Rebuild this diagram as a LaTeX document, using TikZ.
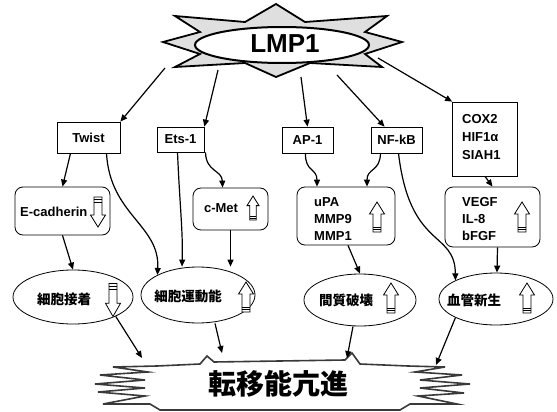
\documentclass[tikz,border=0pt]{standalone}
\usepackage{fontspec}
\setmainfont{Liberation Sans}
\newfontfamily\jpfont{Noto Sans CJK JP}
\usetikzlibrary{arrows.meta,shapes.geometric}
\tikzset{
  boxs/.style={draw, line width=0.7pt, inner sep=0pt},
  rboxs/.style={draw, line width=0.8pt, rounded corners=8pt, inner sep=0pt},
  lbl/.style={font=\bfseries\fontsize{13}{15}\selectfont, inner sep=0pt},
  jlbl/.style={font=\jpfont\bfseries\fontsize{13.5}{15}\selectfont, inner sep=0pt},
  ells/.style={draw, ellipse, line width=0.8pt, inner sep=0pt},
  arr/.style={-{Triangle[length=7pt,width=6pt]}, line width=1.2pt},
  uparr/.pic={
    \draw[line width=0.8pt, fill=white] (-4,15) -- (4,15) -- (4,-3) -- (7.5,-3) -- (0,-15) -- (-7.5,-3) -- (-4,-3) -- cycle;
    \draw[line width=0.7pt] (-4,10) -- (4,10) (-4,12.5) -- (4,12.5);
  },
  downarr/.pic={
    \draw[line width=0.8pt, fill=white] (-4,-15) -- (4,-15) -- (4,3) -- (7.5,3) -- (0,15) -- (-7.5,3) -- (-4,3) -- cycle;
    \draw[line width=0.7pt] (-4,-10) -- (4,-10) (-4,-12.5) -- (4,-12.5);
  }
}
\begin{document}
\begin{tikzpicture}[x=1pt,y=-1pt]
\useasboundingbox (0,0) rectangle (557,412);
% top star
\draw[line width=1.8pt, fill=gray!25, line join=miter]
  (163,42) -- (200,32) -- (175,16) -- (245,22) -- (276,4) -- (305,22) -- (387,16) -- (365,32)
  -- (402,42) -- (365,54) -- (382,67) -- (310,63) -- (276,77) -- (245,63) -- (175,67) -- (200,54) -- cycle;
\node[ells, fill=white, line width=2pt, minimum width=174pt, minimum height=36pt] (lmpE) at (282,45) {};
\node[font=\bfseries\fontsize{26}{28}\selectfont, inner sep=0pt] (lmp) at (285,44) {LMP1};
% bottom star
\draw[line width=1.6pt, draw=gray!45!black, fill=white, line join=miter]
  (157,366) -- (200,364) -- (207,356) -- (214,362) -- (345,360) -- (352,353) -- (360,364) -- (408,366)
  -- (445,367) -- (415,372) -- (462,375) -- (420,380) -- (470,384) -- (420,388) -- (464,393) -- (418,396)
  -- (457,404) -- (410,404) -- (400,410) -- (160,410) -- (150,404) -- (103,404) -- (145,396) -- (98,392)
  -- (145,388) -- (95,384) -- (145,380) -- (100,375) -- (148,372) -- (113,367) -- cycle;
\node[font=\jpfont\bfseries\fontsize{28}{30}\selectfont, inner sep=0pt] (meta) at (278,384) {転移能亢進};
% first row boxes
\node[boxs, minimum width=63pt, minimum height=31pt] (twist) at (88.5,137.5) {};
\node[lbl] (twistT) at (twist) {Twist};
\node[boxs, minimum width=47pt, minimum height=25pt] (ets) at (180.5,139.5) {};
\node[lbl] (etsT) at (ets) {Ets-1};
\node[boxs, minimum width=51pt, minimum height=26pt] (ap) at (307.5,140) {};
\node[lbl] (apT) at (ap) {AP-1};
\node[boxs, minimum width=51pt, minimum height=26pt] (nf) at (396.5,140) {};
\node[lbl] (nfT) at (nf) {NF-kB};
\node[boxs, minimum width=65pt, minimum height=74pt] (cox) at (485,139) {};
\node[lbl, anchor=west] (cox1) at (462,119) {COX2};
\node[lbl, anchor=west] (cox2) at (462,137) {HIF1α};
\node[lbl, anchor=west] (cox3) at (462,155) {SIAH1};
% second row boxes
\node[rboxs, minimum width=95pt, minimum height=48pt] (ecad) at (62.5,211) {};
\node[lbl, anchor=west] (ecadT) at (20,212) {E-cadherin};
\pic at (98,212) {downarr};
\node[rboxs, minimum width=75pt, minimum height=42pt] (cmet) at (230.5,209) {};
\node[lbl] (cmetT) at (221,208) {c-Met};
\pic[scale=0.8] at (253,208) {uparr};
\node[rboxs, minimum width=98pt, minimum height=58pt] (upa) at (346,216) {};
\node[lbl, anchor=west] (upa1) at (314,202) {uPA};
\node[lbl, anchor=west] (upa2) at (314,219) {MMP9};
\node[lbl, anchor=west] (upa3) at (314,236) {MMP1};
\pic at (377,217) {uparr};
\node[rboxs, minimum width=95pt, minimum height=60pt] (vegf) at (492.5,217) {};
\node[lbl, anchor=west] (vegf1) at (462,202) {VEGF};
\node[lbl, anchor=west] (vegf2) at (462,219) {IL-8};
\node[lbl, anchor=west] (vegf3) at (462,236) {bFGF};
\pic at (522,217) {uparr};
% ellipses
\node[ells, minimum width=120pt, minimum height=54pt] (adh) at (73,297) {};
\node[jlbl] (adhT) at (64,299) {細胞接着};
\pic[yscale=1.1] at (113,300) {downarr};
\node[ells, minimum width=114pt, minimum height=56pt] (mot) at (198,295) {};
\node[jlbl] (motT) at (188,296) {細胞運動能};
\pic at (246,297) {uparr};
\node[ells, minimum width=112pt, minimum height=52pt] (mat) at (360,300) {};
\node[jlbl] (matT) at (346,300) {間質破壊};
\pic at (391,298) {uparr};
\node[ells, minimum width=114pt, minimum height=52pt] (ang) at (496,299) {};
\node[jlbl] (angT) at (474,300) {血管新生};
\pic at (527,298) {uparr};
% arrows from LMP1
\draw[arr] (165,68) -- (twist.north east);
\draw[arr] (218,70) -- (ets.north east);
\draw[arr] (301,77) -- (ap.north);
\draw[arr] (337,75) -- ([xshift=-12pt]nf.north);
\draw[arr] (378,58) -- (cox.north west);
% mid arrows
\draw[arr] ([xshift=-18pt]twist.south) -- (ecad.north);
\draw[arr] ([xshift=18pt]twist.south) .. controls (110,215) and (160,225) .. (mot.north west);
\draw[arr] ([xshift=-3pt]ets.south) .. controls (180,210) and (183,230) .. ([xshift=-16pt]mot.north);
\draw[arr] ([xshift=25pt]ets.south) .. controls (206,172) and (222,170) .. ([xshift=-8pt]cmet.north);
\draw[arr] (cmet.south) -- (mot.north -| cmet.south);
\draw[arr] (ecad.south) -- (adh.north);
\draw[arr] ([xshift=-2pt]ap.south) .. controls (305,172) and (317,168) .. ([xshift=-29pt]upa.north);
\draw[arr] ([xshift=-16pt]nf.south) .. controls (380,172) and (367,168) .. ([xshift=21pt]upa.north);
\draw[arr] ([xshift=2pt]nf.south) .. controls (410,250) and (455,230) .. (ang.north west);
\draw[arr] (cox.south) -- (vegf.north);
\draw[arr] ([xshift=2pt]upa.south) -- (mat.north);
\draw[arr] ([xshift=5pt]vegf.south) -- ([xshift=1pt]ang.north);
% to bottom
\draw[arr] (adh.south east) -- (142,358);
\draw[arr] ([xshift=17pt]mot.south) -- (222,353);
\draw[arr] ([xshift=-7pt]mat.south) -- (347,358);
\draw[arr] (ang.south west) -- (436,365);
\end{tikzpicture}
\end{document}
